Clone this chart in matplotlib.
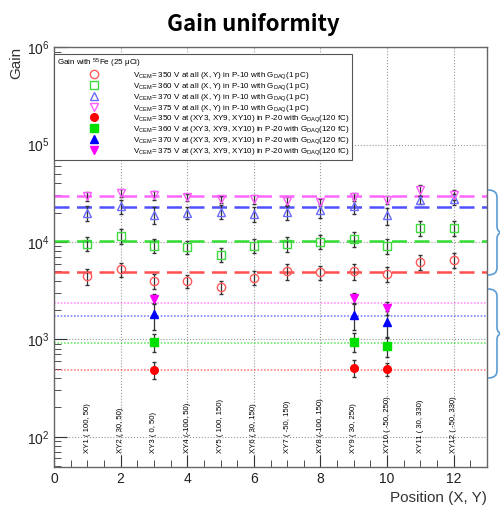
import matplotlib
matplotlib.use('Agg')
import matplotlib.pyplot as plt
from matplotlib.lines import Line2D
from matplotlib.path import Path
from matplotlib.patches import PathPatch
from matplotlib.ticker import LogLocator, MultipleLocator

plt.rcParams['font.family'] = ['Liberation Sans', 'DejaVu Sans']
plt.rcParams['mathtext.default'] = 'regular'

# Positions and labels
positions = [1, 2, 3, 4, 5, 6, 7, 8, 9, 10, 11, 12]
pos_labels = ['XY1 ( 100, 50)', 'XY2 ( 30, 50)', 'XY3 ( 0, 50)',
              'XY4 (-100, 50)', 'XY5 ( 100, 150)', 'XY6 ( 30, 150)',
              'XY7 ( -50, 150)', 'XY8 (-100, 150)', 'XY9 ( 30, 250)',
              'XY10 ( -50, 250)', 'XY11 ( 30, 330)', 'XY12 ( -50, 330)']

# P-10 gains, all positions
gain_350 = [4450, 5250, 3980, 3950, 3430, 4310, 5010, 4890, 5010, 4740, 6240, 6530]
gain_360 = [9620, 11530, 9180, 8890, 7430, 9180, 9620, 10100, 10840, 9180, 13930, 13930]
gain_370 = [20000, 23200, 19100, 20000, 20500, 19400, 20500, 21100, 23600, 18800, 27200, 27400]
gain_375 = [29400, 32100, 30000, 28800, 27400, 27400, 26100, 25700, 29000, 27200, 33900, 30600]
err_350 = [0.18, 0.17, 0.18, 0.15, 0.15, 0.17, 0.18, 0.17, 0.18, 0.18, 0.17, 0.18]
err_360 = [0.17, 0.18, 0.17, 0.15, 0.17, 0.17, 0.18, 0.17, 0.18, 0.18, 0.17, 0.18]
err_370 = [0.18, 0.17, 0.20, 0.15, 0.17, 0.18, 0.18, 0.17, 0.18, 0.20, 0.10, 0.12]
err_375 = [0.10, 0.10, 0.10, 0.08, 0.08, 0.10, 0.10, 0.08, 0.10, 0.10, 0.12, 0.12]

# P-20 gains at XY3, XY9, XY10
p20_positions = [3, 9, 10]
p20_350 = [484, 513, 492]
p20_360 = [940, 942, 853]
p20_370 = [1800, 1780, 1510]
p20_375 = [2600, 2670, 2090]
p20_err_350 = [0.2, 0.2, 0.15]
p20_err_360 = [0.22, 0.22, 0.22]
p20_err_370 = [0.3, 0.3, 0.3]
p20_err_375 = [0.12, 0.12, 0.15]

# Average gain lines
p10_mean = [4870, 10300, 22600, 29300]
p20_mean = [490, 910, 1730, 2370]

labels_p10 = [r'$V_{CEM}$= %d V at all (X, Y) in P-10 with $G_{DAQ}$(1 pC)' % v
              for v in (350, 360, 370, 375)]
labels_p20 = [r'$V_{CEM}$= %d V at (XY3, XY9, XY10) in P-20 with $G_{DAQ}$(120 fC)' % v
              for v in (350, 360, 370, 375)]

open_colors = ['#ff5a5a', '#3fd83f', '#6b6bff', '#ff5cff']
fill_colors = ['#ff0000', '#00e000', '#0000ff', '#ff00ff']
line_colors = ['#ff5050', '#33dd33', '#5050ff', '#ff66ff']
markers = ['o', 's', '^', 'v']

fig = plt.figure(figsize=(5, 5.12), dpi=100)
ax = fig.add_axes([0.108, 0.088, 0.866, 0.82])
ax.set_yscale('log')
ax.set_xlim(0, 13)
ax.set_ylim(49, 1e6)

ax.grid(True, which='major', ls=':', color='#999999', lw=0.8)

# mean lines
for m, c in zip(p10_mean, line_colors):
    ax.axhline(m, color=c, ls=(0, (6, 3)), lw=1.8, zorder=2)
for m, c in zip(p20_mean, line_colors):
    ax.axhline(m, color=c, ls=(0, (1, 1)), lw=1.2, alpha=0.7, zorder=2)

handles = []
p10_sets = [(gain_350, err_350), (gain_360, err_360),
            (gain_370, err_370), (gain_375, err_375)]
for (g, e), c, mk in zip(p10_sets, open_colors, markers):
    ax.errorbar(positions, g, yerr=[gi * ei for gi, ei in zip(g, e)],
                fmt='none', ecolor='#333333', elinewidth=0.9, capsize=1.5,
                zorder=3)
    ax.plot(positions, g, ls='none', marker=mk, ms=6, mfc='none',
            mec=c, mew=1.0, zorder=4)
    handles.append(Line2D([0], [0], ls='none', marker=mk, ms=6,
                          mfc='none', mec=c, mew=1.0))

p20_sets = [(p20_350, p20_err_350), (p20_360, p20_err_360),
            (p20_370, p20_err_370), (p20_375, p20_err_375)]
for (g, e), c, mk in zip(p20_sets, fill_colors, markers):
    ax.errorbar(p20_positions, g, yerr=[gi * ei for gi, ei in zip(g, e)],
                fmt='none', ecolor='#333333', elinewidth=0.9, capsize=1.5,
                zorder=3)
    ax.plot(p20_positions, g, ls='none', marker=mk, ms=5.5, mfc=c,
            mec=c, zorder=4)
    handles.append(Line2D([0], [0], ls='none', marker=mk, ms=5.5,
                          mfc=c, mec=c))

for x, lab in zip(positions, pos_labels):
    ax.text(x, 68, lab, rotation=90, ha='center', va='bottom', fontsize=5.6)

leg = ax.legend(handles, labels_p10 + labels_p20,
                title=r'Gain with $^{55}$Fe (25 $\mu$Ci)',
                loc='upper left', bbox_to_anchor=(0.0, 0.983),
                borderaxespad=0, fontsize=5.8, title_fontsize=5.8,
                alignment='left', fancybox=False, framealpha=1,
                edgecolor='#555555', handlelength=9.2, handletextpad=0.2,
                labelspacing=0.0, borderpad=0.35)
leg.get_frame().set_linewidth(0.8)
leg.set_zorder(10)

# ticks
ax.xaxis.set_major_locator(MultipleLocator(2))
ax.xaxis.set_minor_locator(MultipleLocator(0.5))
ax.yaxis.set_major_locator(LogLocator(base=10, numticks=10))
ax.yaxis.set_minor_locator(LogLocator(base=10, subs=range(2, 10), numticks=10))
ax.tick_params(which='both', direction='in', labelsize=10, colors='#333333',
               labelcolor='#222222')
ax.tick_params(which='major', length=9)
ax.tick_params(which='minor', length=5)
for sp in ax.spines.values():
    sp.set_color('#666666')
    sp.set_linewidth(1.0)

ax.set_xlabel('Position (X, Y)', loc='right', fontsize=11, color='#333333')
ax.set_ylabel('Gain', loc='top', fontsize=11, color='#333333', labelpad=2)

fig.text(0.506, 0.953, 'Gain uniformity', ha='center', va='center',
         fontsize=16, weight='bold',
         family=['Noto Sans CJK KR', 'DejaVu Sans'])


def brace(y0, y1):
    """ Draws a right-hand curly brace between two pixel rows. """
    ym = (y0 + y1) / 2
    pts = [(488, y0), (497, y0), (497, y0 + 7),
           (497, ym - 6), (497, ym), (503, ym),
           (497, ym), (497, ym + 6),
           (497, y1 - 7), (497, y1), (488, y1)]
    codes = [Path.MOVETO, Path.CURVE3, Path.CURVE3,
             Path.LINETO, Path.CURVE3, Path.CURVE3,
             Path.CURVE3, Path.CURVE3,
             Path.LINETO, Path.CURVE3, Path.CURVE3]
    verts = [(x / 500, 1 - y / 512) for x, y in pts]
    fig.patches.append(PathPatch(Path(verts, codes), fill=False,
                                 edgecolor='#5b9bd5', lw=1.2,
                                 transform=fig.transFigure))


brace(190, 275)
brace(289, 378)

fig.savefig('out.png', dpi=100)
